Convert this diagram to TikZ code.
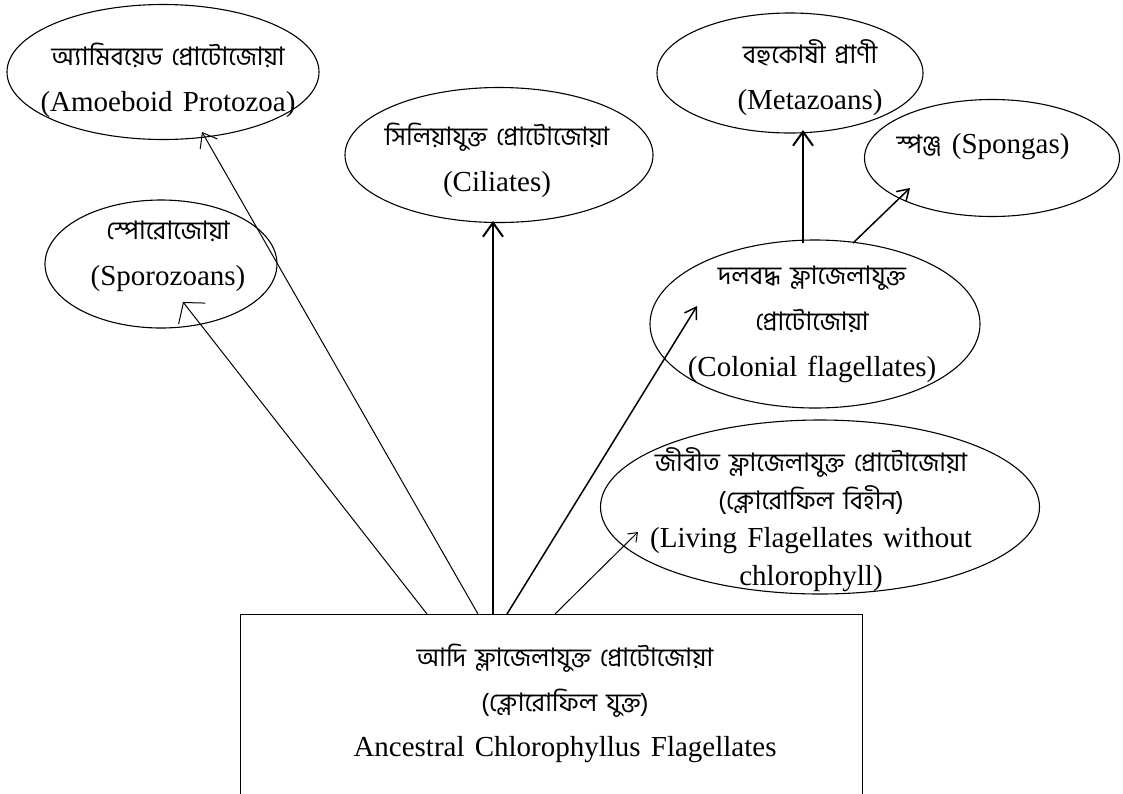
\documentclass[tikz,border=0pt]{standalone}
\usepackage{fontspec}
\setmainfont{Liberation Serif}
\newfontfamily\bn[Script=Bengali,Scale=0.88]{Hind Siliguri}
\usetikzlibrary{shapes.geometric,arrows.meta}
\newcommand\wg{\hspace{0.35em}}
\begin{document}
\begin{tikzpicture}[x=1pt,y=-1pt,
  oval/.style={ellipse, draw, line width=1.1pt, inner sep=0pt},
  txt/.style={align=center, inner sep=0pt, font=\fontsize{29}{46}\selectfont},
  tighttxt/.style={align=center, inner sep=0pt, font=\fontsize{29}{38}\selectfont},
  arr/.style={line width=1pt, -{Straight Barb[length=13pt,width=20pt]}},
  thickarr/.style={line width=2pt, -{Straight Barb[length=14pt,width=20pt]}},
  midarr/.style={line width=1.5pt, -{Straight Barb[length=11pt,width=14pt]}}]
\useasboundingbox (0,0) rectangle (1123,793);
\clip (0,0) rectangle (1123,793);

% ancestral group (box runs off the lower edge)
\node[draw, line width=1.3pt, anchor=north west, inner sep=0pt,
      minimum width=622, minimum height=260] (root) at (240,614) {};
\node[txt, font=\fontsize{29}{45}\selectfont] (rootT) at (565,703)
  {{\bn আদি\wg ফ্লাজেলাযুক্ত\wg প্রোটোজোয়া}\\
   {\bn (ক্লোরোফিল\wg যুক্ত)}\\
   Ancestral\wg Chlorophyllus\wg Flagellates};

% descendant groups
\node[oval, minimum width=312, minimum height=135] (amoeba) at (163,72) {};
\node[txt] (amoebaT) at (168,80)
  {{\bn অ্যামিবয়েড\wg প্রোটোজোয়া}\\(Amoeboid\wg Protozoa)};

\node[oval, minimum width=232, minimum height=128] (spor) at (161,264) {};
\node[txt] (sporT) at (168,256) {{\bn স্পোরোজোয়া}\\(Sporozoans)};

\node[oval, minimum width=308, minimum height=135] (cil) at (499,155) {};
\node[txt] (cilT) at (497,160)
  {{\bn সিলিয়াযুক্ত\wg প্রোটোজোয়া}\\(Ciliates)};

\node[oval, minimum width=266, minimum height=120] (meta) at (790,73) {};
\node[txt] (metaT) at (810,78) {{\bn বহুকোষী\wg প্রাণী}\\(Metazoans)};

\node[oval, minimum width=255, minimum height=117] (spong) at (992,158) {};
\node[txt] (spongT) at (983,147) {{\bn স্পঞ্জ}\wg (Spongas)};

\node[oval, minimum width=330, minimum height=168] (col) at (815,324) {};
\node[txt] (colT) at (812,324)
  {{\bn দলবদ্ধ\wg ফ্লাজেলাযুক্ত}\\{\bn প্রোটোজোয়া}\\(Colonial\wg flagellates)};

\node[oval, minimum width=439, minimum height=174] (liv) at (820,507) {};
\node[tighttxt] (livT) at (811,520)
  {{\bn জীবীত\wg ফ্লাজেলাযুক্ত\wg প্রোটোজোয়া}\\
   {\bn (ক্লোরোফিল\wg বিহীন)}\\
   (Living\wg Flagellates\wg without\\
   chlorophyll)};

% lines of descent
\draw[line width=1pt, -{Straight Barb[length=14pt,width=34pt]}]
  ([xshift=187]root.north west) -- ([shift={(22,38)}]spor.center);
\draw[arr] ([xshift=238]root.north west) -- ([shift={(39,60)}]amoeba.center);
\draw[thickarr] ([xshift=253]root.north west) -- ([shift={(-6,66)}]cil.center);
\draw[midarr] ([xshift=267]root.north west) -- ([shift={(-118,-18)}]col.center);
\draw[line width=1pt, -{Straight Barb[length=8pt,width=12pt]}]
  ([xshift=315]root.north west) -- ([shift={(-182,25)}]liv.center);
\draw[thickarr] ([shift={(-12,-81)}]col.center) -- ([shift={(13,57)}]meta.center);
\draw[midarr] ([shift={(38,-81)}]col.center) -- ([shift={(-82,30)}]spong.center);
\end{tikzpicture}
\end{document}
